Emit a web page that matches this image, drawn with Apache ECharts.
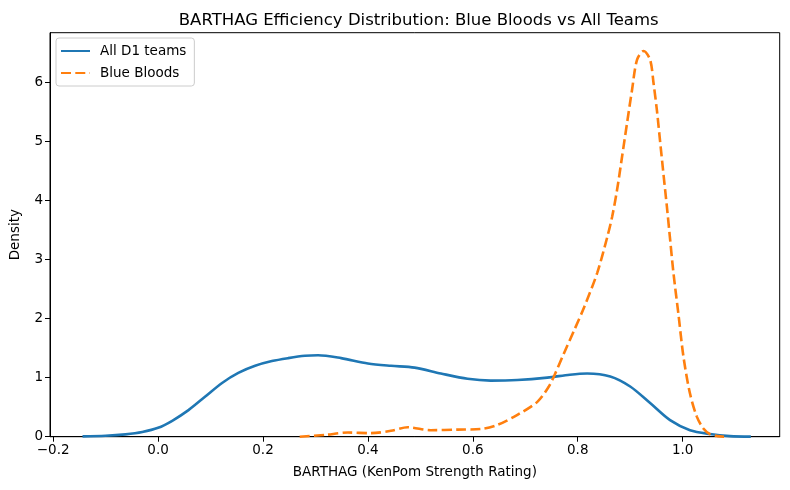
<!DOCTYPE html>
<html><head><meta charset="utf-8">
<script src="https://cdn.jsdelivr.net/npm/echarts@6/dist/echarts.min.js"></script>
<style>html,body{margin:0;padding:0;background:#fff}#c{width:790px;height:490px}</style>
</head><body><div id="c"></div>
<script>
const allX = [-0.144,-0.100,-0.062,-0.030,0.0,0.027,0.058,0.090,0.122,0.153,0.185,0.217,0.248,0.280,0.305,0.349,0.400,0.444,0.489,0.539,0.590,0.634,0.685,0.742,0.785,0.818,0.862,0.900,0.938,0.976,1.014,1.052,1.090,1.130];
const allY = [0.005,0.015,0.04,0.08,0.15,0.27,0.45,0.68,0.91,1.08,1.20,1.28,1.33,1.37,1.38,1.33,1.24,1.20,1.17,1.07,0.98,0.95,0.96,1.00,1.05,1.07,1.02,0.85,0.57,0.28,0.11,0.045,0.01,0.002];
const bbX = [0.270,0.318,0.362,0.406,0.444,0.476,0.520,0.571,0.615,0.647,0.685,0.723,0.745,0.7546,0.7736,0.7926,0.8116,0.837,0.856,0.8655,0.875,0.8845,0.894,0.9035,0.913,0.9255,0.938,0.9446,0.951,0.957,0.9635,0.970,0.975,0.9825,0.992,1.0016,1.014,1.027,1.0395,1.052,1.066,1.079];
const bbY = [0.0,0.03,0.07,0.06,0.10,0.16,0.11,0.12,0.13,0.20,0.37,0.59,0.85,1.02,1.41,1.79,2.18,2.77,3.37,3.72,4.18,4.74,5.31,5.87,6.38,6.53,6.38,5.98,5.52,5.00,4.44,3.89,3.44,2.77,2.07,1.35,0.73,0.34,0.14,0.045,0.01,0.0];
const xTicks = [-0.2,0.0,0.2,0.4,0.6,0.8,1.0];
const yTicks = [0,1,2,3,4,5,6];
const seriesNames = ['All D1 teams','Blue Bloods'];

const font = 'DejaVu Sans';
const chart = echarts.init(document.getElementById('c'));
const zip = (xs, ys) => xs.map((x, i) => [x, ys[i]]);
chart.setOption({
  animation: false,
  textStyle: {fontFamily: font},
  title: {text: 'BARTHAG Efficiency Distribution: Blue Bloods vs All Teams', left: 413.7, top: 7, textAlign: 'center',
    textStyle: {fontFamily: font, fontSize: 16.5, fontWeight: 'normal', color: '#000'}},
  grid: {left: 47.6, right: 10.3, top: 32.7, bottom: 53.3, show: true, borderColor: '#000', borderWidth: 1, backgroundColor: 'transparent'},
  legend: {left: 56, top: 38, orient: 'vertical', itemWidth: 29, itemHeight: 10, itemGap: 8,
    padding: [6, 8, 6, 4], borderColor: '#cccccc', borderWidth: 1, borderRadius: 3, backgroundColor: 'rgba(255,255,255,0.8)',
    itemStyle: {opacity: 0},
    textStyle: {fontFamily: font, fontSize: 13.5, color: '#000', padding: [0, 0, 0, 5]}, data: seriesNames},
  xAxis: {type: 'value', min: -0.206, max: 1.185,
    name: 'BARTHAG (KenPom Strength Rating)', nameLocation: 'middle', nameGap: 29,
    nameTextStyle: {fontFamily: font, fontSize: 13.5, color: '#000'},
    axisLine: {show: true, onZero: false, lineStyle: {color: '#000', width: 1}},
    axisTick: {show: true, length: 5, lineStyle: {color: '#000'}, customValues: xTicks},
    axisLabel: {fontFamily: font, fontSize: 13.5, color: '#000', margin: 7, customValues: xTicks,
      formatter: v => (v < 0 ? '\u2212' : '') + Math.abs(v).toFixed(1)},
    splitLine: {show: false}},
  yAxis: {type: 'value', min: 0, max: 6.84,
    name: 'Density', nameLocation: 'middle', nameGap: 28,
    nameTextStyle: {fontFamily: font, fontSize: 13.5, color: '#000'},
    axisLine: {show: true, onZero: false, lineStyle: {color: '#000', width: 1}},
    axisTick: {show: true, length: 5, lineStyle: {color: '#000'}, customValues: yTicks},
    axisLabel: {fontFamily: font, fontSize: 13.5, color: '#000', margin: 7, customValues: yTicks},
    splitLine: {show: false}},
  series: [
    {name: seriesNames[0], type: 'line', data: zip(allX, allY), smooth: 0.3, symbol: 'none',
      lineStyle: {color: '#1f77b4', width: 2.6}, itemStyle: {color: '#1f77b4'}},
    {name: seriesNames[1], type: 'line', data: zip(bbX, bbY), smooth: 0.3, symbol: 'none',
      lineStyle: {color: '#ff7f0e', width: 2.6, type: [10, 4.3]}, itemStyle: {color: '#ff7f0e'}}
  ]
});
</script></body></html>
